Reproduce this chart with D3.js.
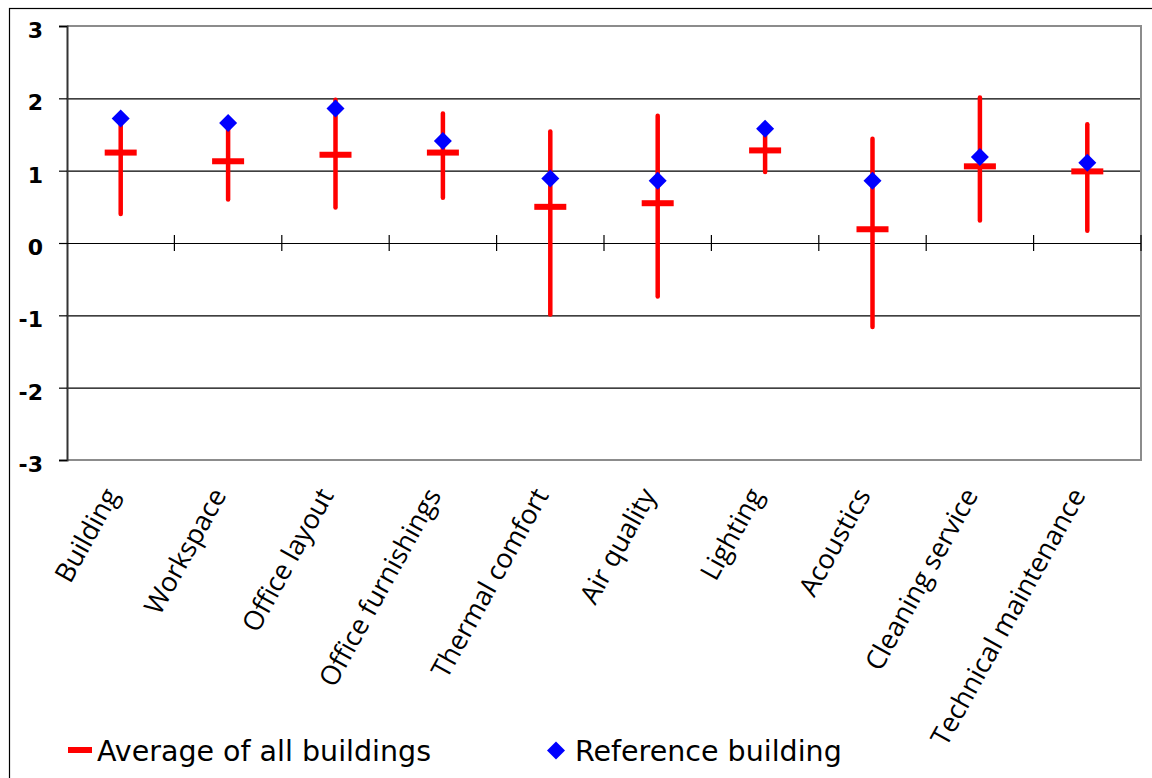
<!DOCTYPE html>
<html>
<head>
<meta charset="utf-8">
<script src="https://cdn.jsdelivr.net/npm/d3@7"></script>
<style>
  html, body { margin: 0; padding: 0; background: #fff; }
  svg { display: block; }
</style>
</head>
<body>
<svg id="chart" width="1152" height="778"></svg>
<script>
const categories = ["Building", "Workspace", "Office layout", "Office furnishings", "Thermal comfort",
  "Air quality", "Lighting", "Acoustics", "Cleaning service", "Technical maintenance"];
const avgValues = [1.25, 1.13, 1.22, 1.25, 0.50, 0.55, 1.28, 0.19, 1.06, 0.99];
const refValues = [1.72, 1.66, 1.86, 1.41, 0.89, 0.86, 1.58, 0.86, 1.19, 1.11];
const maxValues = [1.65, 1.60, 1.98, 1.79, 1.54, 1.76, 1.50, 1.44, 2.01, 1.64];
const minValues = [0.40, 0.60, 0.49, 0.625, -0.99, -0.74, 0.98, -1.16, 0.31, 0.17];
const yTicks = [-3, -2, -1, 0, 1, 2, 3];
const legendLabels = ["Average of all buildings", "Reference building"];

const svg = d3.select("#chart");
const plot = { left: 67, right: 1141, top: 26, bottom: 460 };

// outer chart border
svg.append("rect").attr("x", 9.5).attr("y", 8.5).attr("width", 1160).attr("height", 800)
  .attr("fill", "none").attr("stroke", "#000").attr("stroke-width", 1.2);

const x = d3.scaleBand().domain(categories).range([plot.left, plot.right]).padding(0);
const y = d3.scaleLinear().domain([-3, 3]).range([plot.bottom, plot.top]);

// gridlines
svg.append("g").selectAll("line").data(yTicks.filter(t => t !== 3 && t !== -3)).join("line")
  .attr("x1", plot.left).attr("x2", plot.right)
  .attr("y1", d => y(d) + 0.5).attr("y2", d => y(d) + 0.5)
  .attr("stroke", "#000").attr("stroke-width", 1.2);

// plot border (gray)
svg.append("path")
  .attr("d", `M${plot.left},${y(3)}H${plot.right}V${y(-3)}H${plot.left}`)
  .attr("fill", "none").attr("stroke", "#8c8c8c").attr("stroke-width", 2);

// y axis
const yAxis = d3.axisLeft(y).tickValues(yTicks).tickSize(8).tickPadding(16).tickFormat(d3.format("d"));
const yg = svg.append("g").attr("transform", `translate(${plot.left},0)`).call(yAxis);
yg.select(".domain").attr("stroke", "#333").attr("stroke-width", 2);
yg.selectAll(".tick line").attr("stroke", "#000").attr("stroke-width", 1.2);
yg.selectAll(".tick text")
  .attr("font-family", "'DejaVu Sans', Verdana, sans-serif")
  .attr("font-weight", "bold").attr("font-size", 22).attr("fill", "#000")
  .attr("dy", "0.52em").text(d => d < 0 ? "-" + Math.abs(d) : d);

// x axis at zero with cross ticks
const xg = svg.append("g").attr("transform", `translate(0,${y(0)})`);
xg.append("line").attr("x1", plot.left).attr("x2", plot.right).attr("y1", 0.5).attr("y2", 0.5)
  .attr("stroke", "#000").attr("stroke-width", 1.2);
const boundaries = categories.slice(1).map(c => x(c)).concat([plot.right]);
xg.selectAll("line.tk").data(boundaries).join("line").attr("class", "tk")
  .attr("x1", d => d).attr("x2", d => d).attr("y1", -8).attr("y2", 8)
  .attr("stroke", "#000").attr("stroke-width", 1.2);

// category labels
svg.append("g").selectAll("text").data(categories).join("text")
  .attr("transform", d => `translate(${x(d) + x.bandwidth() / 2 - 1},${495}) rotate(-61)`)
  .attr("text-anchor", "end")
  .attr("font-family", "'Open Sans', sans-serif").attr("font-size", 27).attr("fill", "#000")
  .text(d => d);

// whiskers
const cx = d => x(d) + x.bandwidth() / 2;
const marks = svg.append("g");
marks.selectAll("line.wh").data(categories).join("line").attr("class", "wh")
  .attr("x1", d => cx(d)).attr("x2", d => cx(d))
  .attr("y1", (d, i) => y(maxValues[i])).attr("y2", (d, i) => y(minValues[i]))
  .attr("stroke", "#ff0000").attr("stroke-width", 4.5).attr("stroke-linecap", "round");
marks.selectAll("rect.avg").data(categories).join("rect").attr("class", "avg")
  .attr("x", d => cx(d) - 16).attr("width", 32)
  .attr("y", (d, i) => y(avgValues[i]) - 3).attr("height", 6)
  .attr("fill", "#ff0000");
marks.selectAll("path.ref").data(categories).join("path").attr("class", "ref")
  .attr("transform", (d, i) => `translate(${cx(d)},${y(refValues[i])}) rotate(45)`)
  .attr("d", d3.symbol().type(d3.symbolSquare).size(162))
  .attr("fill", "#0000ff");

// legend
const lg = svg.append("g");
lg.append("rect").attr("x", 68).attr("y", 747).attr("width", 24).attr("height", 6).attr("fill", "#ff0000");
lg.append("text").attr("x", 97).attr("y", 761).text(legendLabels[0])
  .attr("font-family", "'DejaVu Sans', Verdana, sans-serif").attr("font-size", 28.5).attr("fill", "#000");
lg.append("path").attr("transform", "translate(556,750.5) rotate(45)")
  .attr("d", d3.symbol().type(d3.symbolSquare).size(162)).attr("fill", "#0000ff");
lg.append("text").attr("x", 575).attr("y", 761).text(legendLabels[1])
  .attr("font-family", "'DejaVu Sans', Verdana, sans-serif").attr("font-size", 28.5).attr("fill", "#000");
</script>
</body>
</html>
